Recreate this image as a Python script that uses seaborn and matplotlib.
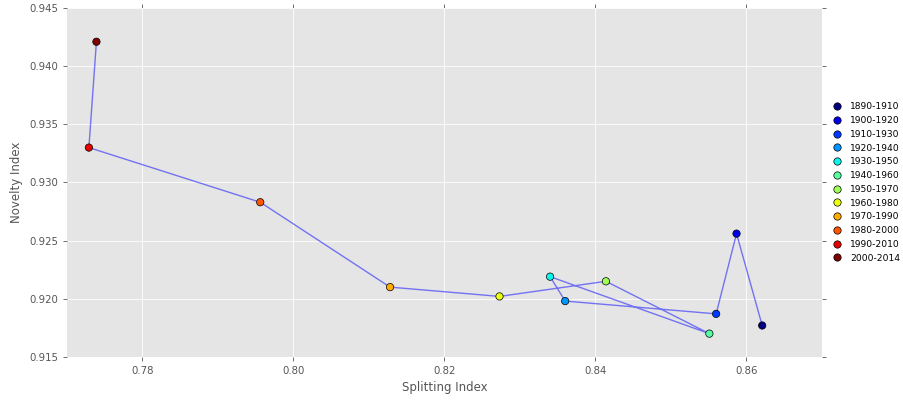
import matplotlib
matplotlib.use("Agg")
import matplotlib.pyplot as plt
import numpy as np
import pandas as pd
import seaborn as sns

periods = ["1890-1910", "1900-1920", "1910-1930", "1920-1940", "1930-1950",
           "1940-1960", "1950-1970", "1960-1980", "1970-1990", "1980-2000",
           "1990-2010", "2000-2014"]
splitting = [0.8621, 0.8587, 0.8560, 0.8360, 0.8340, 0.8551,
             0.8414, 0.8273, 0.8128, 0.7956, 0.7729, 0.7739]
novelty = [0.9177, 0.9256, 0.9187, 0.9198, 0.9219, 0.9170,
           0.9215, 0.9202, 0.9210, 0.9283, 0.9330, 0.9421]

df = pd.DataFrame({"period": periods, "split": splitting, "novelty": novelty})

plt.style.use("ggplot")
plt.rcParams["font.family"] = ["DejaVu Sans"]

colors = [plt.cm.jet(v) for v in np.linspace(0, 1, len(periods))]

fig = plt.figure(figsize=(9.04, 4.01), dpi=100)
ax = fig.add_axes([0.0741, 0.110, 0.835, 0.870])
ax.set_facecolor("#E5E5E5")

# line through the periods in time order
sns.lineplot(data=df, x="split", y="novelty", sort=False, estimator=None,
             color=(0.0, 0.0, 1.0, 0.5), linewidth=1.0, ax=ax, zorder=2)
sns.scatterplot(data=df, x="split", y="novelty", hue="period",
                hue_order=periods, palette=colors, s=28,
                edgecolor="black", linewidth=0.5, ax=ax, zorder=3)

ax.set_xlim(0.77, 0.87)
ax.set_ylim(0.915, 0.945)
ax.set_xticks([0.78, 0.80, 0.82, 0.84, 0.86])
ax.set_yticks([0.915, 0.920, 0.925, 0.930, 0.935, 0.940, 0.945])
ax.xaxis.set_major_formatter(matplotlib.ticker.FormatStrFormatter("%.2f"))
ax.yaxis.set_major_formatter(matplotlib.ticker.FormatStrFormatter("%.3f"))
ax.tick_params(axis="both", labelsize=7.3, colors="#555555", direction="out",
               length=3, width=0.6, top=True, right=True)
ax.grid(True, color="white", linewidth=0.6)
for sp in ax.spines.values():
    sp.set_visible(False)

ax.set_xlabel("Splitting Index", fontsize=8.5, color="#555555")
ax.set_ylabel("Novelty Index", fontsize=8.5, color="#555555")

handles, labels = ax.get_legend_handles_labels()
ax.legend(handles, labels, loc="center left", bbox_to_anchor=(1.0, 0.5),
          frameon=False, fontsize=6.6, labelspacing=0.52, handletextpad=0.4,
          borderaxespad=0.3, title=None)

fig.savefig("out.png", dpi=100)
